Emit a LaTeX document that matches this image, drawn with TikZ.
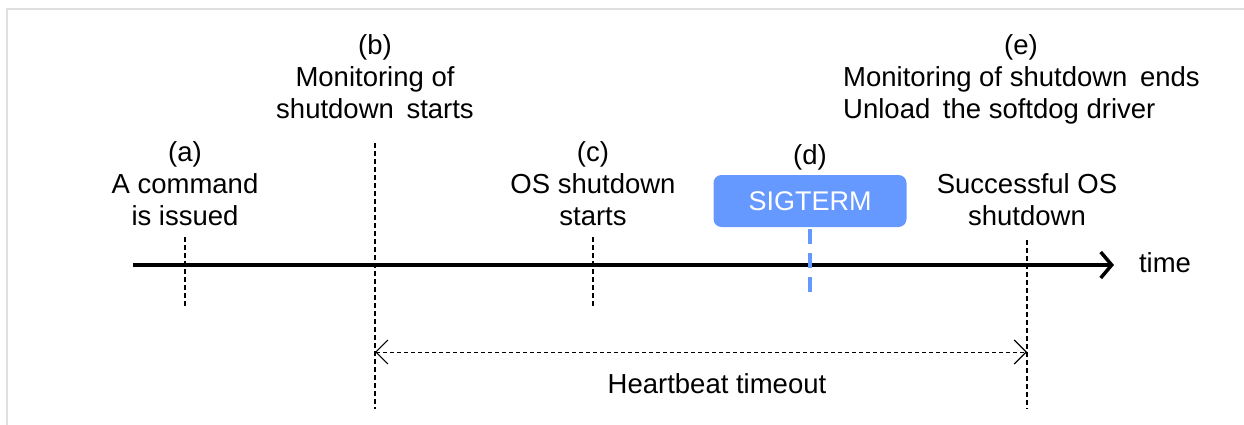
\documentclass[tikz,border=0pt]{standalone}
\usepackage{fontspec}
\setmainfont{Liberation Sans}
\usetikzlibrary{arrows.meta}
\definecolor{sigblue}{RGB}{102,153,255}
\definecolor{framegray}{RGB}{224,224,224}
\newcommand{\wsp}{\ \hspace{0.18em}}
\begin{document}
\begin{tikzpicture}[x=1pt,y=-1pt,
  lbl/.style={font=\fontsize{27.5}{32}\selectfont, inner sep=0pt, anchor=base},
  ticklin/.style={draw=black, line width=1.1pt, dash pattern=on 5pt off 3pt},
  axis/.style={draw=black, line width=4pt, -{Straight Barb[length=11pt,width=26pt,line width=3.5pt]}},
  span/.style={draw=black, line width=1pt, dash pattern=on 4pt off 3pt,
    {Straight Barb[length=12pt,width=24pt,line width=1.1pt]}-{Straight Barb[length=12pt,width=24pt,line width=1.1pt]}},
  sigbox/.style={fill=sigblue, rounded corners=8pt, minimum width=193pt, minimum height=52pt,
    text=white, font=\fontsize{27}{32}\selectfont, inner sep=0pt},
  sigline/.style={draw=sigblue, line width=3.2pt, dash pattern=on 15pt off 9pt}]
\useasboundingbox (0,0) rectangle (1244,425);
% frame
\draw[framegray, line width=2pt] (7,425) -- (7,9) -- (1244,9);

% time axis
\coordinate (t0) at (133,265);
\coordinate (t1) at (1114,265);
\draw[axis] (t0) -- (t1);
\node[lbl] (time) at (1165,272) {time};

% (a)
\node[lbl] (a1) at (185,161) {(a)};
\node[lbl] (a2) at (185,193) {A command};
\node[lbl] (a3) at (185,225) {is issued};
\coordinate (aT) at (185,237);
\coordinate (aB) at (185,306);
\draw[ticklin] (aT) -- (aB);

% (b)
\node[lbl] (b1) at (375,55) {(b)};
\node[lbl] (b2) at (375,87) {Monitoring of};
\node[lbl] (b3) at (375,119) {shutdown\wsp starts};
\coordinate (bT) at (375,143);
\coordinate (bB) at (375,409);
\draw[ticklin] (bT) -- (bB);

% (c)
\node[lbl] (c1) at (593,161) {(c)};
\node[lbl] (c2) at (593,193) {OS shutdown};
\node[lbl] (c3) at (593,225) {starts};
\coordinate (cT) at (593,237);
\coordinate (cB) at (593,306);
\draw[ticklin] (cT) -- (cB);

% (d)
\node[lbl] (d1) at (810,164) {(d)};
\node[sigbox] (sig) at (810,201) {SIGTERM};
\coordinate (dB) at (810,301);
\draw[sigline] (sig.south) ++(0,2) -- (dB);

% (e)
\node[lbl] (e1) at (1021,55) {(e)};
\node[lbl, anchor=base west] (e2) at (843,87) {Monitoring of shutdown\wsp ends};
\node[lbl, anchor=base west] (e3) at (843,119) {Unload\wsp the softdog driver};
\node[lbl] (e4) at (1027,193) {Successful OS};
\node[lbl] (e5) at (1027,225) {shutdown};
\coordinate (eT) at (1027,240);
\coordinate (eB) at (1027,409);
\draw[ticklin] (eT) -- (eB);

% heartbeat span
\coordinate (hL) at (375,352);
\coordinate (hR) at (1027,352);
\draw[span] (hL) -- (hR);
\node[lbl] (hb) at (717,393) {Heartbeat timeout};
\end{tikzpicture}
\end{document}
